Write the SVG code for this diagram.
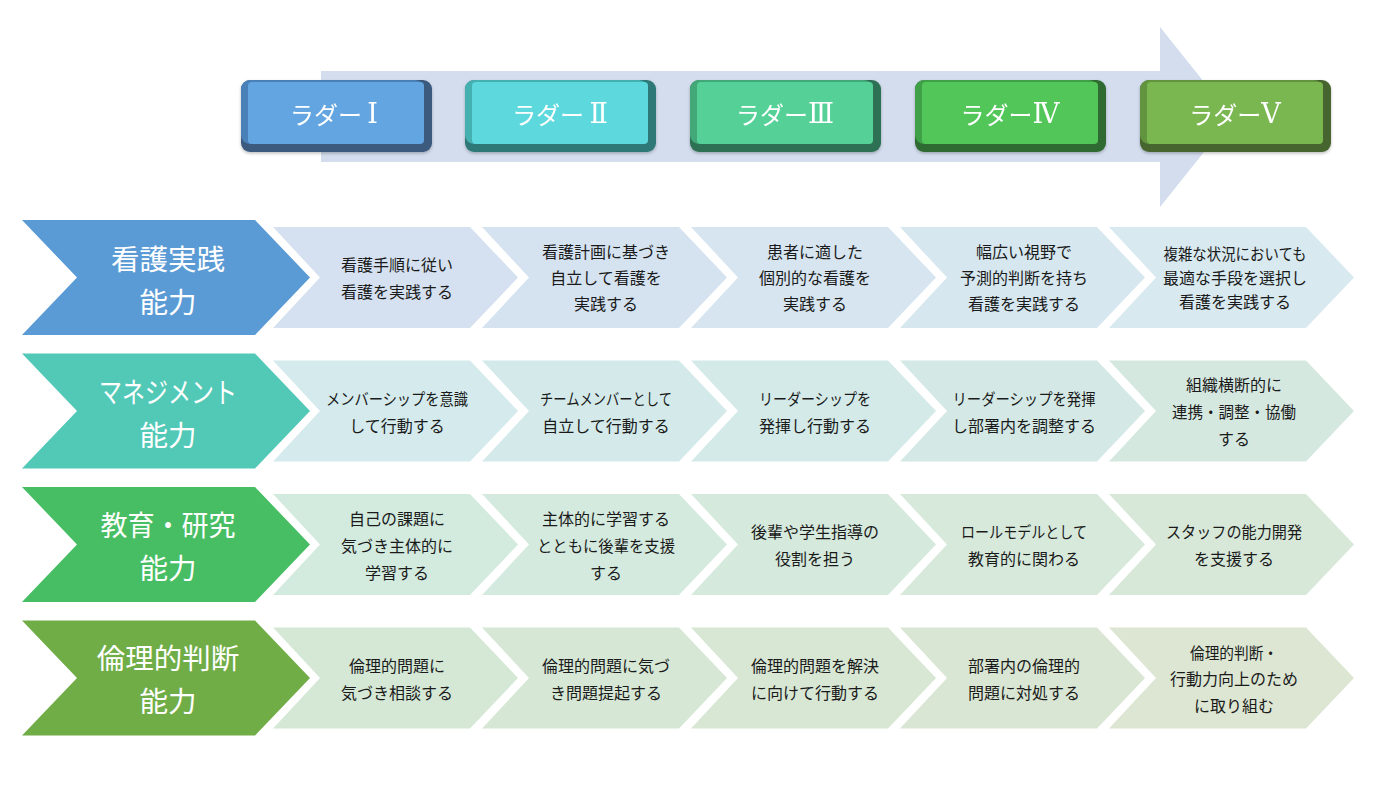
<svg xmlns="http://www.w3.org/2000/svg" width="1390" height="790" viewBox="0 0 1390 790">
<defs>
<filter id="sh" x="-10%" y="-10%" width="120%" height="130%">
<feDropShadow dx="0" dy="1.5" stdDeviation="1.5" flood-color="#000" flood-opacity="0.25"/>
</filter>
<style>
.lad{font-family:"Noto Sans CJK JP","Noto Sans",sans-serif;font-size:24px;fill:#fff;text-anchor:middle;dominant-baseline:central}
.num{font-family:"DejaVu Serif","Noto Sans CJK JP",serif;font-size:27px}
.lab{font-family:"Noto Sans CJK JP","Noto Sans",sans-serif;font-size:28.5px;fill:#fff;text-anchor:middle;dominant-baseline:central}
.st{font-family:"Noto Sans CJK JP","Noto Sans",sans-serif;font-size:16px;fill:#1a1a1a;text-anchor:middle;dominant-baseline:central}
</style>
</defs>
<rect width="1390" height="790" fill="#fff"/>
<g id="big-arrow">
<polygon points="321,71 1160,71 1160,27 1232,117 1160,207 1160,162 321,162" fill="#D3DDEE"/>
</g>
<g id="ladder1" filter="url(#sh)">
<rect x="241" y="80" width="191" height="72" rx="9" fill="#3A5A7E"/>
<rect x="241" y="80" width="183" height="64" rx="9" fill="#4A80B8"/>
<rect x="248" y="82" width="176" height="62" rx="4" fill="#63A5E0"/>
<text class="lad" x="334" y="113">ラダー <tspan class="num">Ⅰ</tspan></text>
</g>
<g id="ladder2" filter="url(#sh)">
<rect x="465" y="80" width="191" height="72" rx="9" fill="#2F7978"/>
<rect x="465" y="80" width="183" height="64" rx="9" fill="#45B0B0"/>
<rect x="472" y="82" width="176" height="62" rx="4" fill="#5DD9DD"/>
<text class="lad" x="560" y="113">ラダー <tspan class="num">Ⅱ</tspan></text>
</g>
<g id="ladder3" filter="url(#sh)">
<rect x="690" y="80" width="191" height="72" rx="9" fill="#2F6F53"/>
<rect x="690" y="80" width="183" height="64" rx="9" fill="#43A878"/>
<rect x="697" y="82" width="176" height="62" rx="4" fill="#54D197"/>
<text class="lad" x="785" y="113">ラダー<tspan class="num">Ⅲ</tspan></text>
</g>
<g id="ladder4" filter="url(#sh)">
<rect x="915" y="80" width="191" height="72" rx="9" fill="#2D6B30"/>
<rect x="915" y="80" width="183" height="64" rx="9" fill="#3FA046"/>
<rect x="922" y="82" width="176" height="62" rx="4" fill="#52C65A"/>
<text class="lad" x="1010" y="113">ラダー<tspan class="num">Ⅳ</tspan></text>
</g>
<g id="ladder5" filter="url(#sh)">
<rect x="1140" y="80" width="191" height="72" rx="9" fill="#46652D"/>
<rect x="1140" y="80" width="183" height="64" rx="9" fill="#629440"/>
<rect x="1147" y="82" width="176" height="62" rx="4" fill="#7AB751"/>
<text class="lad" x="1235" y="113">ラダー<tspan class="num">Ⅴ</tspan></text>
</g>

<!-- Row 1 -->
<g id="row1-label">
<polygon points="22,220 255,220 310,277.5 255,335 22,335 77,277.5" fill="#5B9BD5"/>
<text class="lab" x="168" y="257">看護実践</text>
<text class="lab" x="168" y="300">能力</text>
</g>
<g id="r1c1"><polygon points="273,227 470,227 518,277.5 470,328 273,328 320,277.5" fill="#D5E1F0"/>
<text class="st" x="397" y="264">看護手順に従い</text><text class="st" x="397" y="291">看護を実践する</text></g>
<g id="r1c2"><polygon points="482,227 679,227 727,277.5 679,328 482,328 529,277.5" fill="#D5E3F0"/>
<text class="st" x="606" y="251">看護計画に基づき</text><text class="st" x="606" y="277">自立して看護を</text><text class="st" x="606" y="303">実践する</text></g>
<g id="r1c3"><polygon points="691,227 888,227 936,277.5 888,328 691,328 738,277.5" fill="#D6E5EF"/>
<text class="st" x="815" y="251">患者に適した</text><text class="st" x="815" y="277">個別的な看護を</text><text class="st" x="815" y="303">実践する</text></g>
<g id="r1c4"><polygon points="900,227 1097,227 1145,277.5 1097,328 900,328 947,277.5" fill="#D6E7EF"/>
<text class="st" x="1024" y="251">幅広い視野で</text><text class="st" x="1024" y="277">予測的判断を持ち</text><text class="st" x="1024" y="303">看護を実践する</text></g>
<g id="r1c5"><polygon points="1109,227 1306,227 1354,277.5 1306,328 1109,328 1156,277.5" fill="#D8E9F0"/>
<text class="st" x="1235" y="253" textLength="143" lengthAdjust="spacingAndGlyphs">複雑な状況においても</text><text class="st" x="1235" y="277">最適な手段を選択し</text><text class="st" x="1235" y="301">看護を実践する</text></g>

<!-- Row 2 -->
<g id="row2-label">
<polygon points="22,353.5 255,353.5 310,411 255,468.5 22,468.5 77,411" fill="#52C9B7"/>
<text class="lab" x="168" y="390" textLength="138" lengthAdjust="spacingAndGlyphs">マネジメント</text>
<text class="lab" x="168" y="433">能力</text>
</g>
<g id="r2c1"><polygon points="273,360.5 470,360.5 518,411 470,461.5 273,461.5 320,411" fill="#D4EAEC"/>
<text class="st" x="397" y="398" textLength="142" lengthAdjust="spacingAndGlyphs">メンバーシップを意識</text><text class="st" x="397" y="425">して行動する</text></g>
<g id="r2c2"><polygon points="482,360.5 679,360.5 727,411 679,461.5 482,461.5 529,411" fill="#D4EAEA"/>
<text class="st" x="606" y="398" textLength="132" lengthAdjust="spacingAndGlyphs">チームメンバーとして</text><text class="st" x="606" y="425">自立して行動する</text></g>
<g id="r2c3"><polygon points="691,360.5 888,360.5 936,411 888,461.5 691,461.5 738,411" fill="#D4EAE8"/>
<text class="st" x="815" y="398" textLength="112" lengthAdjust="spacingAndGlyphs">リーダーシップを</text><text class="st" x="815" y="425">発揮し行動する</text></g>
<g id="r2c4"><polygon points="900,360.5 1097,360.5 1145,411 1097,461.5 900,461.5 947,411" fill="#D4E9E5"/>
<text class="st" x="1024" y="398" textLength="143" lengthAdjust="spacingAndGlyphs">リーダーシップを発揮</text><text class="st" x="1024" y="425">し部署内を調整する</text></g>
<g id="r2c5"><polygon points="1109,360.5 1306,360.5 1354,411 1306,461.5 1109,461.5 1156,411" fill="#D5E8E0"/>
<text class="st" x="1234" y="384">組織横断的に</text><text class="st" x="1234" y="411" textLength="124" lengthAdjust="spacingAndGlyphs">連携・調整・協働</text><text class="st" x="1234" y="438">する</text></g>

<!-- Row 3 -->
<g id="row3-label">
<polygon points="22,487 255,487 310,544.5 255,602 22,602 77,544.5" fill="#48BE64"/>
<text class="lab" x="168" y="523" textLength="135" lengthAdjust="spacingAndGlyphs">教育・研究</text>
<text class="lab" x="168" y="566">能力</text>
</g>
<g id="r3c1"><polygon points="273,494 470,494 518,544.5 470,595 273,595 320,544.5" fill="#D3EADF"/>
<text class="st" x="397" y="518">自己の課題に</text><text class="st" x="397" y="545">気づき主体的に</text><text class="st" x="397" y="572">学習する</text></g>
<g id="r3c2"><polygon points="482,494 679,494 727,544.5 679,595 482,595 529,544.5" fill="#D4EADE"/>
<text class="st" x="606" y="518">主体的に学習する</text><text class="st" x="606" y="545" textLength="138" lengthAdjust="spacingAndGlyphs">とともに後輩を支援</text><text class="st" x="606" y="572">する</text></g>
<g id="r3c3"><polygon points="691,494 888,494 936,544.5 888,595 691,595 738,544.5" fill="#D5E9DC"/>
<text class="st" x="815" y="531">後輩や学生指導の</text><text class="st" x="815" y="558">役割を担う</text></g>
<g id="r3c4"><polygon points="900,494 1097,494 1145,544.5 1097,595 900,595 947,544.5" fill="#D6E9DB"/>
<text class="st" x="1024" y="531" textLength="126" lengthAdjust="spacingAndGlyphs">ロールモデルとして</text><text class="st" x="1024" y="558">教育的に関わる</text></g>
<g id="r3c5"><polygon points="1109,494 1306,494 1354,544.5 1306,595 1109,595 1156,544.5" fill="#D7E8D9"/>
<text class="st" x="1234" y="531" textLength="136" lengthAdjust="spacingAndGlyphs">スタッフの能力開発</text><text class="st" x="1234" y="558">を支援する</text></g>

<!-- Row 4 -->
<g id="row4-label">
<polygon points="22,620.5 255,620.5 310,678 255,735.5 22,735.5 77,678" fill="#70AD47"/>
<text class="lab" x="168" y="656">倫理的判断</text>
<text class="lab" x="168" y="699">能力</text>
</g>
<g id="r4c1"><polygon points="273,627.5 470,627.5 518,678 470,728.5 273,728.5 320,678" fill="#D5E8D6"/>
<text class="st" x="397" y="665">倫理的問題に</text><text class="st" x="397" y="692">気づき相談する</text></g>
<g id="r4c2"><polygon points="482,627.5 679,627.5 727,678 679,728.5 482,728.5 529,678" fill="#D6E8D5"/>
<text class="st" x="606" y="665">倫理的問題に気づ</text><text class="st" x="606" y="692">き問題提起する</text></g>
<g id="r4c3"><polygon points="691,627.5 888,627.5 936,678 888,728.5 691,728.5 738,678" fill="#D8E7D4"/>
<text class="st" x="815" y="665">倫理的問題を解決</text><text class="st" x="815" y="692">に向けて行動する</text></g>
<g id="r4c4"><polygon points="900,627.5 1097,627.5 1145,678 1097,728.5 900,728.5 947,678" fill="#D9E6D3"/>
<text class="st" x="1024" y="665">部署内の倫理的</text><text class="st" x="1024" y="692">問題に対処する</text></g>
<g id="r4c5"><polygon points="1109,627.5 1306,627.5 1354,678 1306,728.5 1109,728.5 1156,678" fill="#DCE6D2"/>
<text class="st" x="1234" y="652" textLength="88" lengthAdjust="spacingAndGlyphs">倫理的判断・</text><text class="st" x="1234" y="678">行動力向上のため</text><text class="st" x="1234" y="705">に取り組む</text></g>
</svg>
